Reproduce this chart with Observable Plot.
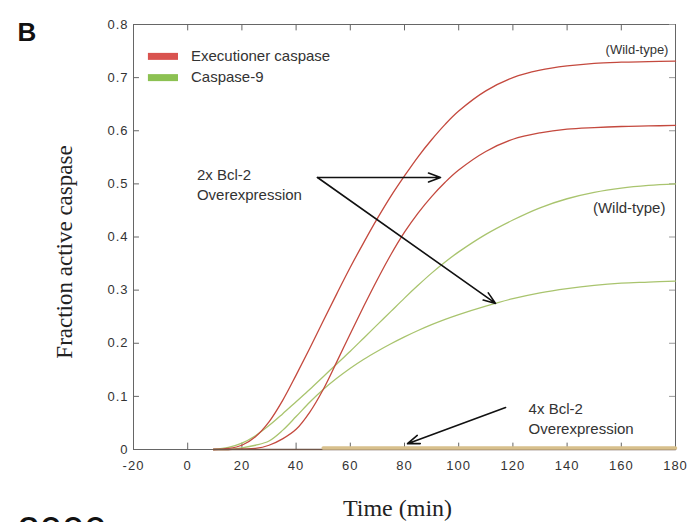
<!DOCTYPE html>
<html><head><meta charset="utf-8">
<script src="https://cdn.jsdelivr.net/npm/d3@7"></script>
<script src="https://cdn.jsdelivr.net/npm/@observablehq/plot@0.6"></script>
<style>
html,body{margin:0;padding:0;background:#fff;overflow:hidden}
#chart svg g[aria-label$="tick label"] text{letter-spacing:1px}
</style>
</head><body><div id="chart"></div>
<script>
// ---- data ----
const time     = [9.5, 15, 20, 25, 30, 35, 40, 45, 50, 55, 60, 65, 70, 75, 80, 85, 90, 95, 100, 110, 120, 130, 140, 150, 160, 170, 180];
const execWT   = [0, 0.002, 0.008, 0.024, 0.052, 0.092, 0.14, 0.19, 0.242, 0.293, 0.343, 0.39, 0.435, 0.477, 0.515, 0.551, 0.583, 0.612, 0.637, 0.675, 0.700, 0.714, 0.722, 0.727, 0.729, 0.730, 0.731];
const exec2x   = [0, 0, 0.001, 0.002, 0.008, 0.02, 0.038, 0.07, 0.113, 0.165, 0.218, 0.27, 0.32, 0.367, 0.409, 0.445, 0.476, 0.503, 0.526, 0.561, 0.584, 0.596, 0.603, 0.606, 0.608, 0.609, 0.610];
const casp9WT  = [0, 0.004, 0.012, 0.026, 0.045, 0.067, 0.09, 0.113, 0.137, 0.161, 0.185, 0.21, 0.235, 0.26, 0.285, 0.309, 0.332, 0.353, 0.372, 0.405, 0.432, 0.455, 0.472, 0.484, 0.492, 0.497, 0.500];
const casp92x  = [0, 0, 0.003, 0.008, 0.016, 0.036, 0.062, 0.089, 0.113, 0.134, 0.153, 0.17, 0.185, 0.199, 0.212, 0.224, 0.235, 0.245, 0.254, 0.27, 0.284, 0.295, 0.303, 0.309, 0.313, 0.315, 0.317];
const time4xExec = [9.5, 180];
const exec4x     = [0, 0];
const time4xC9   = [50, 180];
const casp94x    = [0.003, 0.003];

const xTicks = [-20, 0, 20, 40, 60, 80, 100, 120, 140, 160, 180];
const yTicks = [0, 0.1, 0.2, 0.3, 0.4, 0.5, 0.6, 0.7, 0.8];

const legendLabels = ["Executioner caspase", "Caspase-9"];
const legendColors = ["#d9534f", "#8cc152"];

// annotation arrows (data coordinates)
const arrowX1 = [47.9, 47.9, 117.3];
const arrowY1 = [0.512, 0.512, 0.079];
const arrowX2 = [93.3, 113.6, 81.1];
const arrowY2 = [0.512, 0.275, 0.011];

// ---- build tables ----
const toRows = (xs, ys) => xs.map((t, i) => ({time: t, value: ys[i]}));
const arrows = arrowX1.map((x, i) => ({x1: x, y1: arrowY1[i], x2: arrowX2[i], y2: arrowY2[i]}));
const legend = legendLabels.map((label, i) => ({label, color: legendColors[i], y: [0.740, 0.700][i]}));

const redLine = "#c4493e";
const greenLine = "#a9c46e";
const serif = "'Liberation Serif', 'Times New Roman', serif";

const plot = Plot.plot({
  width: 692,
  height: 522,
  marginLeft: 133,
  marginRight: 17,
  marginTop: 24,
  marginBottom: 73,
  style: {fontFamily: "'Liberation Sans', Arial, sans-serif", fontSize: "13px", background: "#fff", color: "#333"},
  x: {domain: [-20, 180]},
  y: {domain: [0, 0.8]},
  marks: [
    Plot.frame({stroke: "#666"}),
    // inward ticks on all four sides
    Plot.ruleX(xTicks, {y1: 0, y2: 0.012, stroke: "#666"}),
    Plot.ruleX(xTicks, {y1: 0.8, y2: 0.788, stroke: "#666"}),
    Plot.ruleY(yTicks, {x1: -20, x2: -17.8, stroke: "#666"}),
    Plot.ruleY(yTicks, {x1: 180, x2: 177.8, stroke: "#999"}),
    Plot.axisX({ticks: xTicks, tickSize: 0, tickPadding: 11, tickFormat: d => String(d), label: null, fontSize: 13}),
    Plot.axisY({ticks: yTicks, tickSize: 0, tickPadding: 5, tickFormat: d => d === 0 ? "0" : d3.format(".1f")(d), label: null, fontSize: 13}),
    // curves
    Plot.line(toRows(time, casp9WT), {x: "time", y: "value", stroke: greenLine, strokeWidth: 1.3, curve: "catmull-rom"}),
    Plot.line(toRows(time, casp92x), {x: "time", y: "value", stroke: greenLine, strokeWidth: 1.3, curve: "catmull-rom"}),
    Plot.line(toRows(time, execWT), {x: "time", y: "value", stroke: redLine, strokeWidth: 1.3, curve: "catmull-rom"}),
    Plot.line(toRows(time, exec2x), {x: "time", y: "value", stroke: redLine, strokeWidth: 1.3, curve: "catmull-rom"}),
    Plot.line(toRows(time4xExec, exec4x), {x: "time", y: "value", stroke: "#6e5548", strokeWidth: 1.6}),
    Plot.line(toRows(time4xC9, casp94x), {x: "time", y: "value", stroke: "#d8c08c", strokeWidth: 3.5}),
    // arrows
    Plot.arrow(arrows, {x1: "x1", y1: "y1", x2: "x2", y2: "y2", stroke: "#111", strokeWidth: 1.6, headLength: 12, headAngle: 40}),
    // legend
    Plot.ruleY(legend, {y: "y", x1: -14.5, x2: -3.4, stroke: "color", strokeWidth: 7}),
    Plot.text(legend, {y: "y", x: 1.2, text: "label", textAnchor: "start", fontSize: 15, fill: "#333"}),
    // annotations
    Plot.text(["2x Bcl-2\nOverexpression"], {x: 3.4, y: 0.50, text: d => d, textAnchor: "start", fontSize: 15, lineHeight: 1.3, fill: "#333"}),
    Plot.text(["(Wild-type)"], {x: 177.4, y: 0.753, text: d => d, textAnchor: "end", fontSize: 13, fill: "#333"}),
    Plot.text(["(Wild-type)"], {x: 176.3, y: 0.454, text: d => d, textAnchor: "end", fontSize: 15, fill: "#333"}),
    Plot.text(["4x Bcl-2\nOverexpression"], {x: 125.8, y: 0.06, text: d => d, textAnchor: "start", fontSize: 15, lineHeight: 1.3, fill: "#333"}),
    // axis titles and panel labels
    Plot.text(["Time (min)"], {frameAnchor: "bottom", dx: -7, dy: 59, textAnchor: "middle", lineAnchor: "middle", text: d => d, fontFamily: serif, fontSize: 24, fill: "#222"}),
    Plot.text(["Fraction active caspase"], {frameAnchor: "left", rotate: -90, dx: -69, dy: 15, textAnchor: "middle", lineAnchor: "middle", text: d => d, fontFamily: serif, fontSize: 23, fill: "#222"}),
    Plot.text(["B"], {frameAnchor: "top-left", dx: -116, dy: -2, textAnchor: "start", lineAnchor: "top", text: d => d, fontSize: 26, fontWeight: "bold", fill: "#111"}),
    Plot.text(["2000"], {frameAnchor: "bottom-left", dx: -116, dy: 67, textAnchor: "start", lineAnchor: "top", text: d => d, fontSize: 40, fill: "#111"})
  ]
});
document.getElementById("chart").appendChild(plot);
</script>
</body></html>
